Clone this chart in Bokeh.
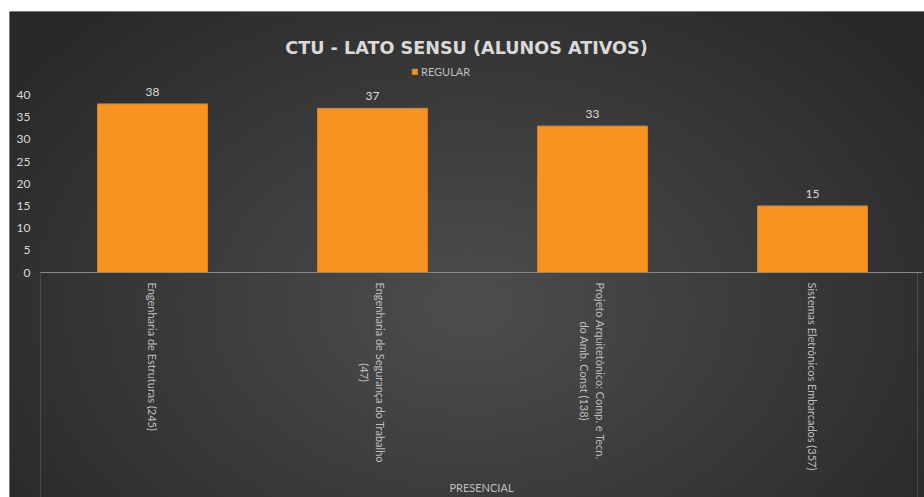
import math
import numpy as np
from bokeh.plotting import figure
from bokeh.layouts import column, row
from bokeh.models import (Range1d, ColumnDataSource, Legend, LegendItem, Label,
                          FixedTicker, BoxAnnotation, Spacer)
from bokeh.core.properties import value
from bokeh.embed import file_html
from bokeh.resources import INLINE

group = "PRESENCIAL"
categories = [
    "Engenharia de Estruturas (245)",
    "Engenharia de Segurança do Trabalho\n(47)",
    "Projeto Arquitetônico: Comp. e Tecn.\ndo Amb. Const (138)",
    "Sistemas Eletrônicos Embarcados (357)",
]
regular = [38, 37, 33, 15]
y_ticks = [0, 5, 10, 15, 20, 25, 30, 35, 40]
series_name = "REGULAR"
title_text = "CTU - LATO SENSU (ALUNOS ATIVOS)"

FONT = "Lato"
W, H = 915, 486                      # figure canvas size
X0_PX, X1_PX = 33, 913               # canvas px where category axis starts / ends
Y0_PX, Y40_PX = 261, 83.5            # canvas px of value 0 and value 40
n = len(categories)
xpp = (X1_PX - X0_PX) / n            # px per category
ypp = (Y0_PX - Y40_PX) / 40.0        # px per unit

x_lo, x_hi = -X0_PX / xpp, n + (W - X1_PX) / xpp
y_lo, y_hi = -(H - Y0_PX) / ypp, Y0_PX / ypp

xs = [i + 0.5 for i in range(n)]
src = ColumnDataSource(dict(x=xs, y=regular, lbl=[str(v) for v in regular],
                            base=[0] * n, cat=categories))

p = figure(width=W, height=H, x_range=Range1d(x_lo, x_hi), y_range=Range1d(y_lo, y_hi),
           output_backend="svg", toolbar_location=None,
           min_border_left=0, min_border_right=0, min_border_top=0, min_border_bottom=0)
p.background_fill_color = "#2c2c2c"
p.border_fill_color = "#2c2c2c"
p.outline_line_color = None

# background radial gradient (style only)
gw, gh = W // 2, H // 2
gx, gy = np.meshgrid(np.linspace(0, W, gw), np.linspace(H, 0, gh))
r = np.sqrt(((gx - 460) / 560.0) ** 2 + ((gy - 295) / 400.0) ** 2)
lvl = (41 + 37 * np.clip(1 - r, 0, 1)).astype(np.uint32)
img = (255 << 24) | (lvl << 16) | (lvl << 8) | lvl
p.image_rgba(image=[img.view(np.uint32)], x=x_lo, y=y_lo, dw=x_hi - x_lo, dh=y_hi - y_lo)

p.xgrid.grid_line_color = None
p.ygrid.grid_line_color = "#575757"
p.ygrid.ticker = FixedTicker(ticks=y_ticks)
p.ygrid.cross_bounds = (-2 / xpp, n)

bars = p.vbar(x="x", top="y", width=0.5, source=src, fill_color="#f7931e", line_color="#dd7d1c")
p.text(x="x", y="y", text="lbl", source=src, text_align="center", text_baseline="bottom",
       y_offset=-8, text_color="#d9d9d9", text_font_size="12px", text_font=value(FONT))

# category labels, rotated, lines centred like the original
p.text(x="x", y="base", text="cat", source=src, angle=-math.pi / 2, anchor="center_left",
       text_align="center", text_baseline="middle", y_offset=10, text_line_height=1.3,
       text_color="#bfbfbf", text_font_size="11px", text_font=value(FONT))

ya = p.yaxis[0]
ya.fixed_location = 0
ya.ticker = FixedTicker(ticks=y_ticks)
ya.axis_line_color = None
ya.major_tick_line_color = None
ya.minor_tick_line_color = None
ya.major_tick_out = 0
ya.minor_tick_out = 0
ya.major_label_text_color = "#d9d9d9"
ya.major_label_text_font = FONT
ya.major_label_text_font_size = "12px"
ya.major_label_standoff = 12

xa = p.xaxis[0]
xa.fixed_location = 0
xa.bounds = (-2 / xpp, n)
xa.ticker = FixedTicker(ticks=xs)
xa.major_label_overrides = {x: "" for x in xs}
xa.axis_line_color = "#8a8a8a"
xa.major_tick_line_color = None
xa.minor_tick_line_color = None
xa.major_tick_out = 0
xa.minor_tick_out = 0
xa.major_label_standoff = 0
xa.axis_label = group
xa.axis_label_text_color = "#bfbfbf"
xa.axis_label_text_font = FONT
xa.axis_label_text_font_size = "11px"
xa.axis_label_text_font_style = "normal"
xa.axis_label_standoff = 208

box = BoxAnnotation(left=-2 / xpp, right=n - 5 / xpp, top=0, bottom=y_lo - 5, fill_alpha=0,
                    line_color="#8a8a8a", line_width=1)
p.add_layout(box)

legend = Legend(items=[LegendItem(label=series_name, renderers=[bars])],
                orientation="horizontal", location=(402, H - 67),
                background_fill_alpha=0, border_line_color=None,
                label_text_color="#bfbfbf", label_text_font=FONT, label_text_font_size="11px",
                glyph_width=7, glyph_height=7, label_standoff=3, label_height=12,
                padding=2, margin=0)
p.add_layout(legend, "center")

title = Label(x=(457 - X0_PX) / xpp, y=(Y0_PX - 36) / ypp, text=title_text,
              text_align="center", text_baseline="middle", text_color="#d9d9d9",
              text_font="DejaVu Sans", text_font_size="17.6px", text_font_style="bold")
p.add_layout(title)

layout = column(Spacer(height=11), row(Spacer(width=9), p), spacing=0)
open("out.html", "w").write(file_html(layout, INLINE))
